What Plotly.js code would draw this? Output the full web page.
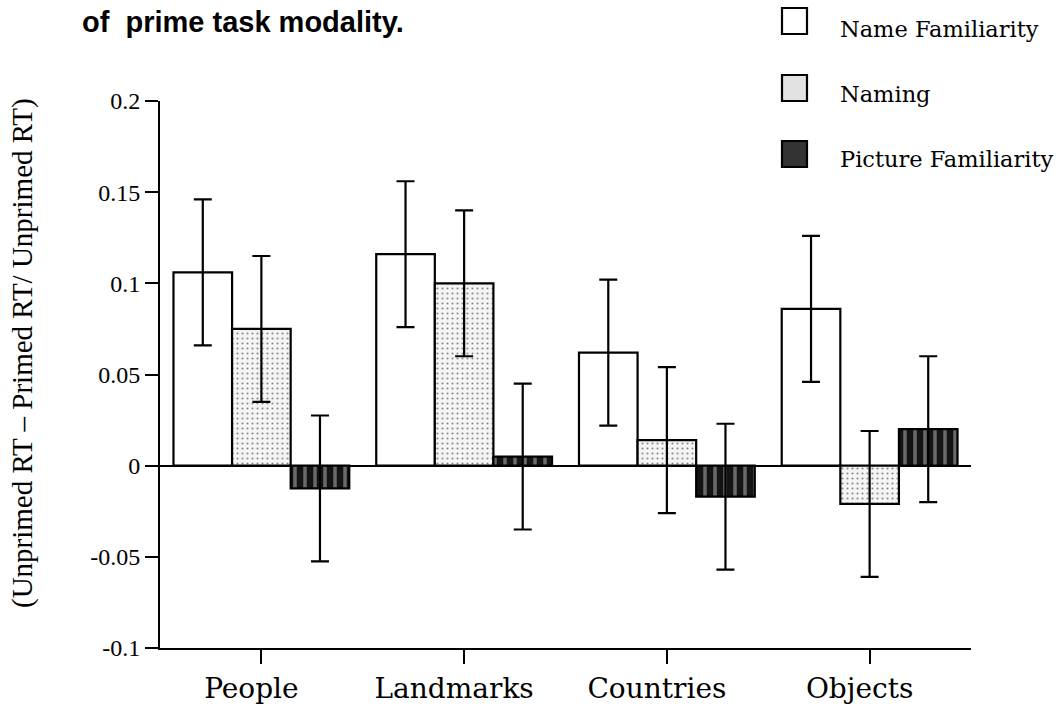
<!DOCTYPE html>
<html>
<head>
<meta charset="utf-8">
<script src="https://cdn.plot.ly/plotly-3.0.1.min.js"></script>
<style>html,body{margin:0;padding:0;background:#fff;}#chart{width:1064px;height:717px;}</style>
</head>
<body>
<div id="chart"></div>
<script>
// ---- data ----
const categories = ["People", "Landmarks", "Countries", "Objects"];
const nameFamiliarity = [0.106, 0.116, 0.062, 0.086];
const nameFamiliarityErr = [0.040, 0.040, 0.040, 0.040];
const naming = [0.075, 0.100, 0.014, -0.021];
const namingErr = [0.040, 0.040, 0.040, 0.040];
const pictureFamiliarity = [-0.0125, 0.005, -0.017, 0.020];
const pictureFamiliarityErr = [0.040, 0.040, 0.040, 0.040];
const seriesNames = ["Name Familiarity", "Naming", "Picture Familiarity"];
const yTickVals = [-0.1, -0.05, 0, 0.05, 0.1, 0.15, 0.2];
const yTickText = ["-0.1", "-0.05", "0", "0.05", "0.1", "0.15", "0.2"];
const titleText = "of&nbsp;&nbsp;prime task modality.";
const yTitleText = "(Unprimed RT \u2013 Primed RT/ Unprimed RT)";

const errStyle = (arr) => ({type: 'data', array: arr, visible: true, color: '#000', thickness: 2.2, width: 9});

const traces = [
  {
    type: 'bar', name: seriesNames[0], x: categories, y: nameFamiliarity,
    marker: {color: '#ffffff', line: {color: '#000', width: 2.2}},
    error_y: errStyle(nameFamiliarityErr), showlegend: false
  },
  {
    type: 'bar', name: seriesNames[1], x: categories, y: naming,
    marker: {color: '#f2f2f2', line: {color: '#000', width: 2.2},
      pattern: {shape: '.', fgcolor: '#8c8c8c', bgcolor: '#f4f4f4', size: 5, solidity: 0.15}},
    error_y: errStyle(namingErr), showlegend: false
  },
  {
    type: 'bar', name: seriesNames[2], x: categories, y: pictureFamiliarity,
    marker: {color: '#1a1a1a', line: {color: '#000', width: 2.2},
      pattern: {shape: '|', fgcolor: '#6a6a6a', bgcolor: '#141414', size: 10, solidity: 0.35}},
    error_y: errStyle(pictureFamiliarityErr), showlegend: false
  }
];

// manual legend (paper coordinates; plot area 160..971 x, 101..648 y)
const px = (v) => (v - 160) / 811;
const py = (v) => (648 - v) / 547;
const legendBoxes = [
  {y0: 8, y1: 34, fill: '#ffffff'},
  {y0: 75, y1: 101, fill: '#e2e2e2'},
  {y0: 141, y1: 167, fill: '#333333'}
];
const legendTextY = [29, 94, 159];

const shapes = legendBoxes.map(b => ({
  type: 'rect', xref: 'paper', yref: 'paper',
  x0: px(782), x1: px(807), y0: py(b.y1), y1: py(b.y0),
  fillcolor: b.fill, line: {color: '#000', width: 2.2}
}));
const annotations = seriesNames.map((n, i) => ({
  xref: 'paper', yref: 'paper', x: px(838), y: py(legendTextY[i]),
  xanchor: 'left', yanchor: 'middle', showarrow: false, text: n,
  font: {family: 'DejaVu Serif', size: 22.5, color: '#000'}
}));
annotations.push({
  xref: 'paper', yref: 'paper', x: px(22), y: py(353),
  xanchor: 'center', yanchor: 'middle', showarrow: false, textangle: -90,
  text: yTitleText, font: {family: 'Liberation Serif', size: 29, color: '#000'}
});

const layout = {
  width: 1064, height: 717,
  paper_bgcolor: '#fff', plot_bgcolor: '#fff',
  margin: {l: 160, r: 93, t: 101, b: 69},
  barmode: 'group', bargap: 0.133, bargroupgap: 0,
  title: {
    text: titleText, x: 82 / 1064, xanchor: 'left', xref: 'container',
    y: 1 - 22 / 717, yanchor: 'middle', yref: 'container',
    font: {family: 'Liberation Sans', size: 29, color: '#000', weight: 'bold'}
  },
  xaxis: {
    type: 'category', range: [-0.5, 3.5], showline: true, linecolor: '#000', linewidth: 2,
    ticks: 'outside', ticklen: 14, tickwidth: 2, tickcolor: '#000', showgrid: false, zeroline: false,
    tickfont: {family: 'DejaVu Serif', size: 28, color: '#000'}, automargin: false,
    ticklabelshift: -10
  },
  yaxis: {
    range: [-0.1, 0.2], tickvals: yTickVals, ticktext: yTickText,
    showline: true, linecolor: '#000', linewidth: 2,
    ticks: 'outside', ticklen: 13, tickwidth: 2, tickcolor: '#000', showgrid: false,
    zeroline: true, zerolinecolor: '#000', zerolinewidth: 2,
    tickfont: {family: 'Liberation Serif', size: 24, color: '#000'},
    automargin: false
  },
  shapes: shapes,
  annotations: annotations,
  showlegend: false
};

Plotly.newPlot('chart', traces, layout, {displayModeBar: false, staticPlot: true});
</script>
</body>
</html>
